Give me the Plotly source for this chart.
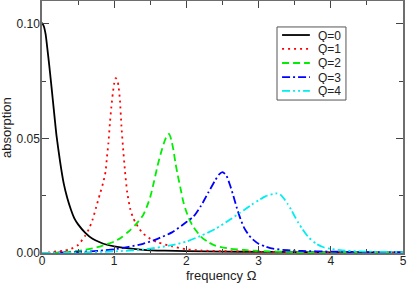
import plotly.graph_objects as go

# ---- data ----
x0 = [0, 0.025, 0.05, 0.075, 0.1, 0.125, 0.15, 0.175, 0.2, 0.25, 0.3, 0.35, 0.4, 0.45, 0.5,
      0.6, 0.7, 0.8, 0.9, 1.0, 1.2, 1.4, 1.7, 2.0, 2.5, 3.0, 3.5, 4.0, 4.5, 5.0]
y0 = [0.1005, 0.0990, 0.0955, 0.0890, 0.0820, 0.0745, 0.0668, 0.0590, 0.0515, 0.0400, 0.0305,
      0.0240, 0.0190, 0.0150, 0.0125, 0.0088, 0.0062, 0.0047, 0.0036, 0.0029, 0.0020, 0.0014,
      0.0010, 0.0008, 0.0006, 0.0005, 0.0004, 0.0003, 0.0003, 0.0002]

x1 = [0, 0.1, 0.2, 0.3, 0.4, 0.5, 0.6, 0.65, 0.7, 0.75, 0.8, 0.85, 0.88, 0.9, 0.92, 0.94, 0.96,
      0.98, 1.0, 1.02, 1.04, 1.06, 1.08, 1.1, 1.12, 1.15, 1.18, 1.22, 1.26, 1.3, 1.35, 1.4, 1.5,
      1.6, 1.8, 2.0, 2.2, 2.5, 3.0, 3.5, 4.0, 4.5, 5.0]
y1 = [0, 0.0003, 0.0007, 0.0010, 0.0018, 0.0035, 0.0076, 0.0105, 0.0145, 0.0200, 0.0255, 0.0310,
      0.0355, 0.0420, 0.0480, 0.0565, 0.0635, 0.0695, 0.0740, 0.0763, 0.0758, 0.0728, 0.0665,
      0.0555, 0.0470, 0.0355, 0.0265, 0.0195, 0.0155, 0.0130, 0.0105, 0.0085, 0.0062, 0.0047,
      0.0029, 0.0016, 0.0011, 0.0008, 0.0005, 0.0004, 0.0003, 0.0002, 0.0002]

x2 = [0, 0.2, 0.4, 0.6, 0.8, 1.0, 1.1, 1.2, 1.3, 1.4, 1.45, 1.5, 1.55, 1.6, 1.65, 1.7, 1.73, 1.76,
      1.79, 1.82, 1.85, 1.88, 1.92, 1.96, 2.0, 2.05, 2.1, 2.2, 2.3, 2.4, 2.6, 2.8, 3.0, 3.5, 4.0,
      4.5, 5.0]
y2 = [0, 0.0002, 0.0006, 0.0014, 0.0028, 0.0050, 0.0068, 0.0094, 0.0125, 0.0165, 0.0200, 0.0245,
      0.0310, 0.0380, 0.0440, 0.0490, 0.0512, 0.0520, 0.0495, 0.0450, 0.0390, 0.0340, 0.0280,
      0.0220, 0.0180, 0.0140, 0.0112, 0.0072, 0.0048, 0.0032, 0.0019, 0.0013, 0.0009, 0.0004,
      0.0003, 0.0002, 0.0002]

x3 = [0, 0.4, 0.8, 1.0, 1.2, 1.4, 1.6, 1.8, 2.0, 2.1, 2.2, 2.3, 2.4, 2.45, 2.5, 2.55, 2.6, 2.65,
      2.7, 2.75, 2.8, 2.85, 2.9, 3.0, 3.1, 3.2, 3.4, 3.6, 4.0, 4.5, 5.0]
y3 = [0, 0.0003, 0.0010, 0.0016, 0.0027, 0.0040, 0.0062, 0.0090, 0.0135, 0.0160, 0.0205, 0.0262,
      0.0318, 0.0342, 0.0353, 0.0340, 0.0300, 0.0250, 0.0195, 0.0148, 0.0110, 0.0085, 0.0065,
      0.0040, 0.0028, 0.0019, 0.0012, 0.0009, 0.0006, 0.0004, 0.0003]

x4 = [0, 0.5, 1.0, 1.4, 1.8, 2.0, 2.2, 2.4, 2.6, 2.8, 2.9, 3.0, 3.1, 3.2, 3.25, 3.3, 3.35, 3.4,
      3.45, 3.5, 3.55, 3.6, 3.65, 3.7, 3.8, 3.9, 4.0, 4.2, 4.5, 5.0]
y4 = [0, 0.0002, 0.0007, 0.0015, 0.0034, 0.0050, 0.0075, 0.0105, 0.0145, 0.0188, 0.0210, 0.0230,
      0.0248, 0.0258, 0.0260, 0.0255, 0.0238, 0.0215, 0.0190, 0.0160, 0.0132, 0.0108, 0.0085,
      0.0066, 0.0040, 0.0025, 0.0018, 0.0010, 0.0006, 0.0004]

names = ["Q=0", "Q=1", "Q=2", "Q=3", "Q=4"]
xs = [x0, x1, x2, x3, x4]
ys = [y0, y1, y2, y3, y4]
colors = ["#000000", "#ff0000", "#00ee00", "#0000ff", "#00eeee"]
dashes = ["solid", "2px,4px", "7px,4px", "8px,3px,2px,3px", "8px,3px,2px,3px,2px,3px"]

xticks = [0, 1, 2, 3, 4, 5]
yticks = [0.0, 0.05, 0.10]
yticklabels = ["0.00", "0.05", "0.10"]

fig = go.Figure()
for n, x, y, c, d in zip(names, xs, ys, colors, dashes):
    fig.add_trace(go.Scatter(x=x, y=y, name=n, mode="lines", showlegend=False,
                             line=dict(color=c, width=1.8, dash=d, shape="spline", smoothing=0.6)))

axis_common = dict(showline=True, linecolor="#6e6e6e", linewidth=1.5, mirror="ticks",
                   ticks="inside", ticklen=7, tickcolor="#444", tickwidth=1,
                   showgrid=False, zeroline=False, automargin=False,
                   tickfont=dict(size=12, color="#222"))

fig.update_xaxes(range=[0, 5], tickvals=xticks, ticktext=[str(v) for v in xticks],
                 ticklabelstandoff=-4,
                 minor=dict(ticks="inside", dtick=0.5, ticklen=4, tickcolor="#444", showgrid=False),
                 **axis_common)
fig.update_yaxes(range=[0, 0.11], tickvals=yticks, ticktext=yticklabels,
                 ticklabelstandoff=-2,
                 minor=dict(ticks="inside", dtick=0.025, ticklen=4, tickcolor="#444", showgrid=False),
                 **axis_common)

# axis titles
fig.add_annotation(text="frequency Ω", xref="paper", yref="paper", x=0.497, y=-0.089,
                   xanchor="center", yanchor="middle", showarrow=False,
                   font=dict(size=13, color="#222"))
fig.add_annotation(text="absorption", xref="paper", yref="paper", x=-0.100, y=0.5,
                   xanchor="center", yanchor="middle", showarrow=False, textangle=-90,
                   font=dict(size=13, color="#222"))

# legend box drawn in paper coordinates
leg_x0, leg_x1, leg_y0, leg_y1 = 0.651, 0.842, 0.607, 0.897
fig.add_shape(type="rect", xref="paper", yref="paper", x0=leg_x0, x1=leg_x1, y0=leg_y0, y1=leg_y1,
              line=dict(color="#555", width=1), fillcolor="white", layer="above")
row_y = [0.865, 0.810, 0.754, 0.698, 0.643]
for n, c, d, ry in zip(names, colors, dashes, row_y):
    fig.add_shape(type="line", xref="paper", yref="paper", x0=0.665, x1=0.742, y0=ry, y1=ry,
                  line=dict(color=c, width=1.8, dash=d), layer="above")
    fig.add_annotation(text=n, xref="paper", yref="paper", x=0.760, y=ry,
                       xanchor="left", yanchor="middle", showarrow=False, height=13,
                       font=dict(size=12, color="#222"))

fig.update_layout(
    width=407, height=283,
    margin=dict(l=42, r=4, t=1, b=30),
    paper_bgcolor="white", plot_bgcolor="white",
    font=dict(family="Liberation Sans, Arial, sans-serif", color="#222"),
    showlegend=False,
)

fig.write_html("out.html", config={"displayModeBar": False},
               post_script="document.body.style.margin='0px';document.body.style.padding='0px';")
